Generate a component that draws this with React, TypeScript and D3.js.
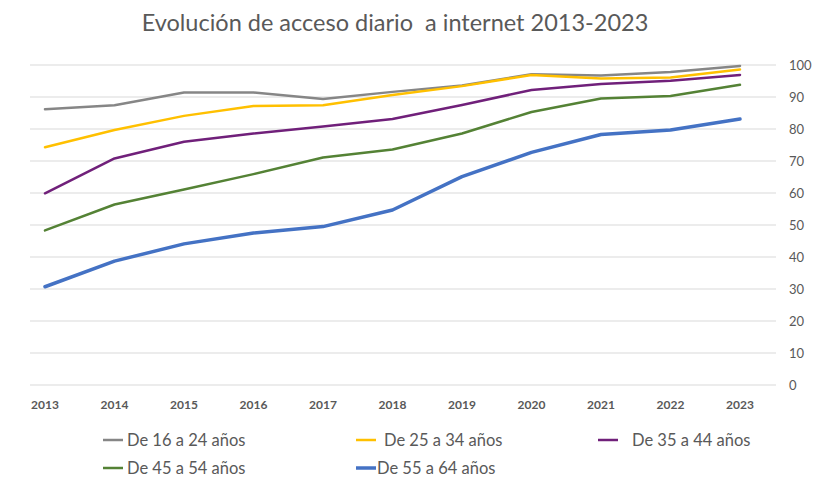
import React from "react";
import * as d3 from "d3";

const years = ["2013", "2014", "2015", "2016", "2017", "2018", "2019", "2020", "2021", "2022", "2023"];
const seriesNames = ["De 16 a 24 años", "De 25 a 34 años", "De 35 a 44 años", "De 45 a 54 años", "De 55 a 64 años"];
const age16_24 = [86.2, 87.4, 91.4, 91.4, 89.4, 91.6, 93.6, 97.1, 96.7, 97.8, 99.7];
const age25_34 = [74.3, 79.7, 84.1, 87.2, 87.4, 90.6, 93.4, 96.9, 95.8, 96.1, 98.6];
const age35_44 = [59.9, 70.8, 76.0, 78.6, 80.8, 83.1, 87.5, 92.2, 94.1, 95.1, 96.9];
const age45_54 = [48.3, 56.4, 61.1, 65.9, 71.1, 73.6, 78.6, 85.3, 89.5, 90.3, 93.8];
const age55_64 = [30.7, 38.7, 44.1, 47.5, 49.5, 54.7, 65.1, 72.7, 78.3, 79.7, 83.1];
const yTicks = [0, 10, 20, 30, 40, 50, 60, 70, 80, 90, 100];

const colors = ["#868686", "#ffc000", "#70207a", "#548235", "#4472c4"];
const widths = [2.5, 2.5, 2.5, 2.5, 3.5];
const allSeries = [age16_24, age25_34, age35_44, age45_54, age55_64];

const font = "Lato, 'Open Sans', sans-serif";

export default function App() {
  const width = 814;
  const height = 478;

  const x = d3.scalePoint<string>().domain(years).range([45, 740]);
  const y = d3.scaleLinear().domain([0, 100]).range([385, 65]);

  const line = d3
    .line<number>()
    .x((d, i) => x(years[i]) as number)
    .y((d) => y(d));

  // legend: [line x, text x, y]
  const legendPos = [
    [103, 127, 440],
    [356, 384, 440],
    [598, 632, 440],
    [103, 127, 468],
    [356, 377, 468],
  ];

  return (
    <svg
      width={width}
      height={height}
      style={{ position: "absolute", left: 0, top: 0, background: "#fff" }}
      fontFamily={font}
    >
      <text x={395} y={31} textAnchor="middle" fontSize={23.5} fill="#595959">
        Evolución de acceso diario{"\u00a0\u00a0"}a internet 2013-2023
      </text>

      {yTicks.map((t) => (
        <g key={t}>
          <line x1={30} x2={776} y1={y(t)} y2={y(t)} stroke="#d9d9d9" strokeWidth={1} />
          <text x={789} y={y(t)} dy="0.35em" fontSize={13} fill="#595959">
            {t}
          </text>
        </g>
      ))}

      {years.map((yr) => (
        <text
          key={yr}
          x={x(yr)}
          y={409}
          textAnchor="middle"
          fontSize={12}
          fontWeight="bold"
          fill="#595959"
        >
          {yr}
        </text>
      ))}

      {allSeries.map((s, i) => (
        <path
          key={seriesNames[i]}
          d={line(s) || ""}
          fill="none"
          stroke={colors[i]}
          strokeWidth={widths[i]}
          strokeLinejoin="round"
          strokeLinecap="round"
        />
      ))}

      {seriesNames.map((name, i) => {
        const [lx, tx, ly] = legendPos[i];
        return (
          <g key={name}>
            <line x1={lx} x2={lx + 20} y1={ly} y2={ly} stroke={colors[i]} strokeWidth={widths[i]} />
            <text x={tx} y={ly} dy="0.35em" fontSize={16.5} fill="#595959">
              {name}
            </text>
          </g>
        );
      })}
    </svg>
  );
}
